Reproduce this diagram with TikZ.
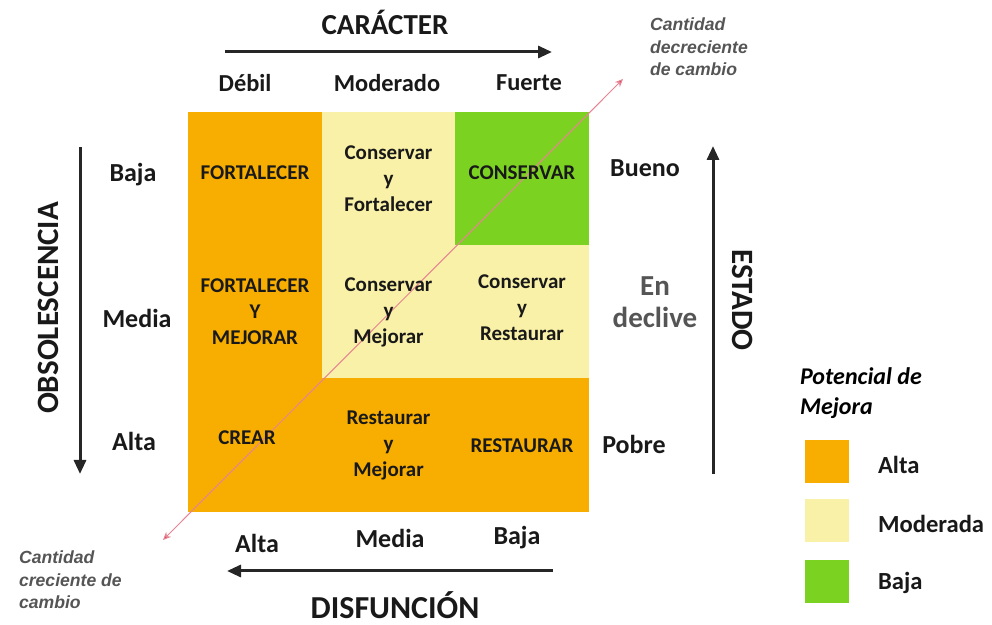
\documentclass[tikz,border=0pt]{standalone}
\usepackage{fontspec}
\setmainfont{Carlito}
\newfontfamily\notefont{Liberation Sans}
\usetikzlibrary{arrows.meta}
\definecolor{altaorange}{RGB}{248,174,0}
\definecolor{modyellow}{RGB}{250,241,168}
\definecolor{bajagreen}{RGB}{124,210,32}
\definecolor{inkgray}{RGB}{85,85,85}
\definecolor{diagred}{RGB}{215,50,75}
\tikzset{
    cell/.style={minimum width=67pt, minimum height=67pt, inner sep=0pt, draw=none},
    celltext/.style={font=\bfseries\fontsize{10.5}{13}\selectfont, align=center, text=black!90},
    axislabel/.style={font=\bfseries\fontsize{15.5}{17}\selectfont, text=black!90},
    ticklabel/.style={font=\bfseries\fontsize{13}{15}\selectfont, text=black!90},
    axisarrow/.style={line width=1.5pt, black!85, -{Triangle[length=7pt,width=6pt]}},
    diagonal/.style={draw=diagred!60, line width=0.5pt, {Stealth[length=4pt,width=3.5pt,fill=diagred]}-{Stealth[length=4pt,width=3.5pt,fill=diagred]}},
    notetext/.style={font=\notefont\itshape\bfseries\fontsize{8.8}{11.3}\selectfont, text=inkgray, align=left},
    legbox/.style={minimum width=22pt, minimum height=21.5pt, inner sep=0pt}
}
\begin{document}
\begin{tikzpicture}[x=0.5pt, y=-0.5pt]
    \useasboundingbox (0,0) rectangle (992,625);
    % matrix cells
    \node[cell, fill=altaorange] (c11) at (255,179) {};
    \node[cell, fill=modyellow] (c12) at (388.5,179) {};
    \node[cell, fill=bajagreen] (c13) at (522,179) {};
    \node[cell, fill=altaorange] (c21) at (255,312) {};
    \node[cell, fill=modyellow] (c22) at (388.5,312) {};
    \node[cell, fill=modyellow] (c23) at (522,312) {};
    \node[cell, fill=altaorange] (c31) at (255,445.5) {};
    \node[cell, fill=altaorange] (c32) at (388.5,445.5) {};
    \node[cell, fill=altaorange] (c33) at (522,445.5) {};
    % diagonal of change
    \coordinate (dlo) at (163,540);
    \coordinate (dhi) at (623,79);
    \draw[diagonal] (dlo) -- (dhi);
    % cell texts
    \node[celltext] (t11) at ([yshift=3pt]c11) {FORTALECER};
    \node[celltext] (t12) at (c12) {Conservar\\y\\Fortalecer};
    \node[celltext] (t13) at ([yshift=3pt]c13) {CONSERVAR};
    \node[celltext] (t21) at (c21) {FORTALECER\\Y\\MEJORAR};
    \node[celltext] (t22) at (c22) {Conservar\\y\\Mejorar};
    \node[celltext] (t23) at ([yshift=2pt]c23) {Conservar\\y\\Restaurar};
    \node[celltext] (t31) at ([xshift=-4pt,yshift=4pt]c31) {CREAR};
    \node[celltext] (t32) at (c32) {Restaurar\\y\\Mejorar};
    \node[celltext] (t33) at (c33) {RESTAURAR};
    % top axis
    \node[axislabel, font=\bfseries\fontsize{14.5}{17}\selectfont] (car) at (385,22) {CARÁCTER};
    \coordinate (cs) at (225,52);
    \coordinate (ce) at (552,52);
    \draw[axisarrow] (cs) -- (ce);
    \node[ticklabel, font=\bfseries\fontsize{12.2}{15}\selectfont] (deb) at (245,83) {Débil};
    \node[ticklabel, font=\bfseries\fontsize{12.2}{15}\selectfont] (mod) at (387,83) {Moderado};
    \node[ticklabel, font=\bfseries\fontsize{12.2}{15}\selectfont] (fue) at (529,83) {Fuerte};
    % left axis
    \node[axislabel, rotate=90] (obs) at (48,308) {OBSOLESCENCIA};
    \coordinate (os) at (80,147);
    \coordinate (oe) at (80,474);
    \draw[axisarrow] (os) -- (oe);
    \node[ticklabel] (obaja) at (133,175) {Baja};
    \node[ticklabel] (omedia) at (137,318) {Media};
    \node[ticklabel] (oalta) at (134,441) {Alta};
    % right axis
    \node[axislabel, rotate=-90] (est) at (743,300) {ESTADO};
    \coordinate (es) at (713,474);
    \coordinate (ee) at (713,146);
    \draw[axisarrow] (es) -- (ee);
    \node[ticklabel] (bue) at (645,168) {Bueno};
    \node[ticklabel, font=\bfseries\fontsize{14.5}{16}\selectfont, text=inkgray, align=center] (dec) at (655,302) {En\\declive};
    \node[ticklabel] (pob) at (634,444) {Pobre};
    % bottom axis
    \node[ticklabel] (dalta) at (257,543) {Alta};
    \node[ticklabel] (dmedia) at (390,538) {Media};
    \node[ticklabel] (dbaja) at (517,538) {Baja};
    \coordinate (ds) at (553,571);
    \coordinate (de) at (227,571);
    \draw[axisarrow] (ds) -- (de);
    \node[axislabel, font=\bfseries\fontsize{16}{17}\selectfont] (dis) at (395,605) {DISFUNCIÓN};
    % notes
    \node[notetext, anchor=west] (dnote) at (643,47) {Cantidad\\decreciente\\de cambio};
    \node[notetext, anchor=west] (cnote) at (12,580) {Cantidad\\creciente de\\cambio};
    % legend
    \node[font=\bfseries\itshape\fontsize{12}{15}\selectfont, align=left, anchor=west] (legt) at (793,393) {Potencial de\\Mejora};
    \node[legbox, fill=altaorange] (lalta) at (827,461.5) {};
    \node[legbox, fill=modyellow] (lmod) at (827,521) {};
    \node[legbox, fill=bajagreen] (lbaja) at (827,581.5) {};
    \node[ticklabel, font=\bfseries\fontsize{12.3}{15}\selectfont, anchor=west] at (871,465) (ltalta) {Alta};
    \node[ticklabel, font=\bfseries\fontsize{12.3}{15}\selectfont, anchor=west] at (871,524) (ltmod) {Moderada};
    \node[ticklabel, font=\bfseries\fontsize{12.3}{15}\selectfont, anchor=west] at (871,583) (ltbaja) {Baja};
\end{tikzpicture}
\end{document}
